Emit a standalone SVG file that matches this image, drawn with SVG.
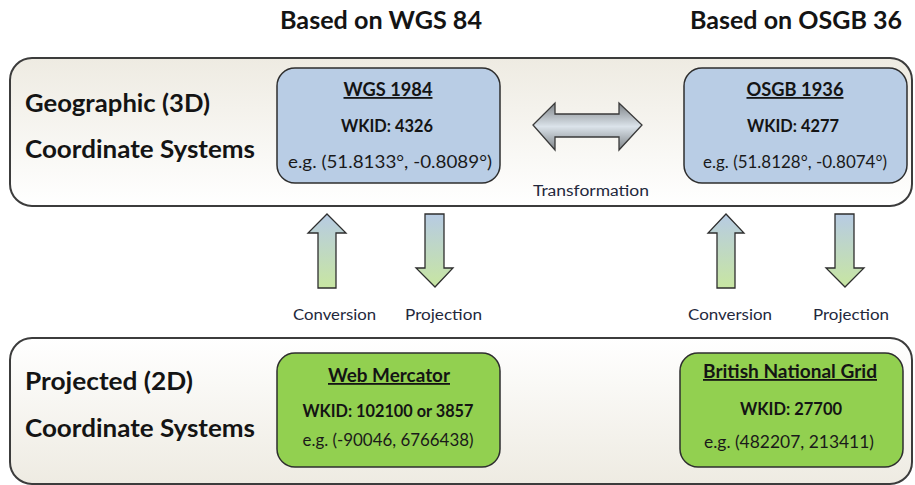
<svg xmlns="http://www.w3.org/2000/svg" width="915" height="485" viewBox="0 0 915 485">
  <defs>
    <linearGradient id="panelTop" x1="0" y1="0" x2="0" y2="1">
      <stop offset="0" stop-color="#eeebe2"/>
      <stop offset="1" stop-color="#ffffff"/>
    </linearGradient>
    <linearGradient id="panelBottom" x1="0" y1="0" x2="0" y2="1">
      <stop offset="0" stop-color="#ffffff"/>
      <stop offset="1" stop-color="#eeebe2"/>
    </linearGradient>
    <linearGradient id="arrowFill" x1="0" y1="0" x2="0" y2="1">
      <stop offset="0" stop-color="#b7cbe3"/>
      <stop offset="1" stop-color="#c8e6a2"/>
    </linearGradient>
    <linearGradient id="swapFill" x1="0" y1="0" x2="0" y2="1">
      <stop offset="0" stop-color="#7e8387"/>
      <stop offset="0.5" stop-color="#dbe3ea"/>
      <stop offset="1" stop-color="#7e8387"/>
    </linearGradient>
  </defs>
  <style>
    .panel { stroke: #3c3c3c; stroke-width: 2; }
    .geo { fill: #b9cde5; stroke: #2e2e2e; stroke-width: 1.5; }
    .proj { fill: #92d050; stroke: #2e2e2e; stroke-width: 1.5; }
    .arrow { fill: url(#arrowFill); stroke: #2e2e2e; stroke-width: 1.3; stroke-linejoin: miter; }
    text { font-family: Lato, "Open Sans", "Liberation Sans", sans-serif; fill: #141414; }
    .big { font-size: 25px; font-weight: bold; }
    .name { font-size: 18px; font-weight: bold; text-decoration: underline; text-anchor: middle; }
    .wkid { font-size: 16.5px; font-weight: bold; text-anchor: middle; }
    .eg { font-size: 17px; text-anchor: middle; fill: #1a1a1a; }
    .lbl { font-size: 15.5px; fill: #23283c; text-anchor: middle; }
  </style>

  <rect width="915" height="485" fill="#ffffff"/>

  <!-- column headings -->
  <text class="big" x="280" y="29" textLength="202" lengthAdjust="spacingAndGlyphs">Based on WGS 84</text>
  <text class="big" x="690" y="29" textLength="212" lengthAdjust="spacingAndGlyphs">Based on OSGB 36</text>

  <!-- geographic band -->
  <g id="geographic-band">
    <rect class="panel" x="10" y="58" width="902" height="148" rx="22" fill="url(#panelTop)"/>
    <text class="big" x="25" y="112" textLength="185" lengthAdjust="spacingAndGlyphs">Geographic (3D)</text>
    <text class="big" x="25" y="158" textLength="230" lengthAdjust="spacingAndGlyphs">Coordinate Systems</text>
  </g>

  <!-- projected band -->
  <g id="projected-band">
    <rect class="panel" x="10" y="338" width="902" height="146" rx="22" fill="url(#panelBottom)"/>
    <text class="big" x="25" y="390" textLength="168" lengthAdjust="spacingAndGlyphs">Projected (2D)</text>
    <text class="big" x="25" y="437" textLength="230" lengthAdjust="spacingAndGlyphs">Coordinate Systems</text>
  </g>

  <g id="wgs1984">
    <rect class="geo" x="277" y="68" width="223" height="115" rx="18"/>
    <text class="name" x="388" y="96" textLength="89" lengthAdjust="spacingAndGlyphs">WGS 1984</text>
    <text class="wkid" x="387" y="132" textLength="92" lengthAdjust="spacingAndGlyphs">WKID: 4326</text>
    <text class="eg" x="390" y="168" textLength="204" lengthAdjust="spacingAndGlyphs">e.g. (51.8133°, -0.8089°)</text>
  </g>

  <g id="osgb1936">
    <rect class="geo" x="684" y="68" width="223" height="115" rx="18"/>
    <text class="name" x="795" y="96" textLength="97" lengthAdjust="spacingAndGlyphs">OSGB 1936</text>
    <text class="wkid" x="793" y="132" textLength="92" lengthAdjust="spacingAndGlyphs">WKID: 4277</text>
    <text class="eg" x="795" y="168" textLength="184" lengthAdjust="spacingAndGlyphs">e.g. (51.8128°, -0.8074°)</text>
  </g>

  <g id="web-mercator">
    <rect class="proj" x="277" y="353" width="223" height="114" rx="18"/>
    <text class="name" x="389" y="382" textLength="122" lengthAdjust="spacingAndGlyphs">Web Mercator</text>
    <text class="wkid" x="388" y="417" textLength="171" lengthAdjust="spacingAndGlyphs">WKID: 102100 or 3857</text>
    <text class="eg" x="388" y="446" textLength="171" lengthAdjust="spacingAndGlyphs">e.g. (-90046, 6766438)</text>
  </g>

  <g id="british-national-grid">
    <rect class="proj" x="680" y="353" width="223" height="114" rx="18"/>
    <text class="name" x="790" y="378" textLength="174" lengthAdjust="spacingAndGlyphs">British National Grid</text>
    <text class="wkid" x="791" y="415" textLength="102" lengthAdjust="spacingAndGlyphs">WKID: 27700</text>
    <text class="eg" x="789" y="448" textLength="170" lengthAdjust="spacingAndGlyphs">e.g. (482207, 213411)</text>
  </g>

  <!-- connectors -->
  <g id="connectors">
    <!-- datum transformation -->
    <path d="M533,125 L555,103 L555,114 L619,114 L619,103 L642,125 L619,150 L619,137 L555,137 L555,150 Z" fill="url(#swapFill)" stroke="#3a3a3a" stroke-width="1.3"/>
    <text class="lbl" x="591" y="196" textLength="116" lengthAdjust="spacingAndGlyphs">Transformation</text>

    <!-- WGS 84 column -->
    <path class="arrow" d="M327,214 L346,233 L336,233 L336,288 L318,288 L318,233 L308,233 Z"/>
    <path class="arrow" d="M425,214 L444,214 L444,268 L453,268 L435,287 L416,268 L425,268 Z"/>
    <text class="lbl" x="334.5" y="320" textLength="83" lengthAdjust="spacingAndGlyphs">Conversion</text>
    <text class="lbl" x="443.5" y="320" textLength="77" lengthAdjust="spacingAndGlyphs">Projection</text>

    <!-- OSGB 36 column -->
    <path class="arrow" d="M726,214 L744,233 L735,233 L735,288 L717,288 L717,233 L708,233 Z"/>
    <path class="arrow" d="M835,214 L854,214 L854,268 L864,268 L845,287 L826,268 L835,268 Z"/>
    <text class="lbl" x="730" y="320" textLength="84" lengthAdjust="spacingAndGlyphs">Conversion</text>
    <text class="lbl" x="851" y="320" textLength="76" lengthAdjust="spacingAndGlyphs">Projection</text>
  </g>
</svg>
